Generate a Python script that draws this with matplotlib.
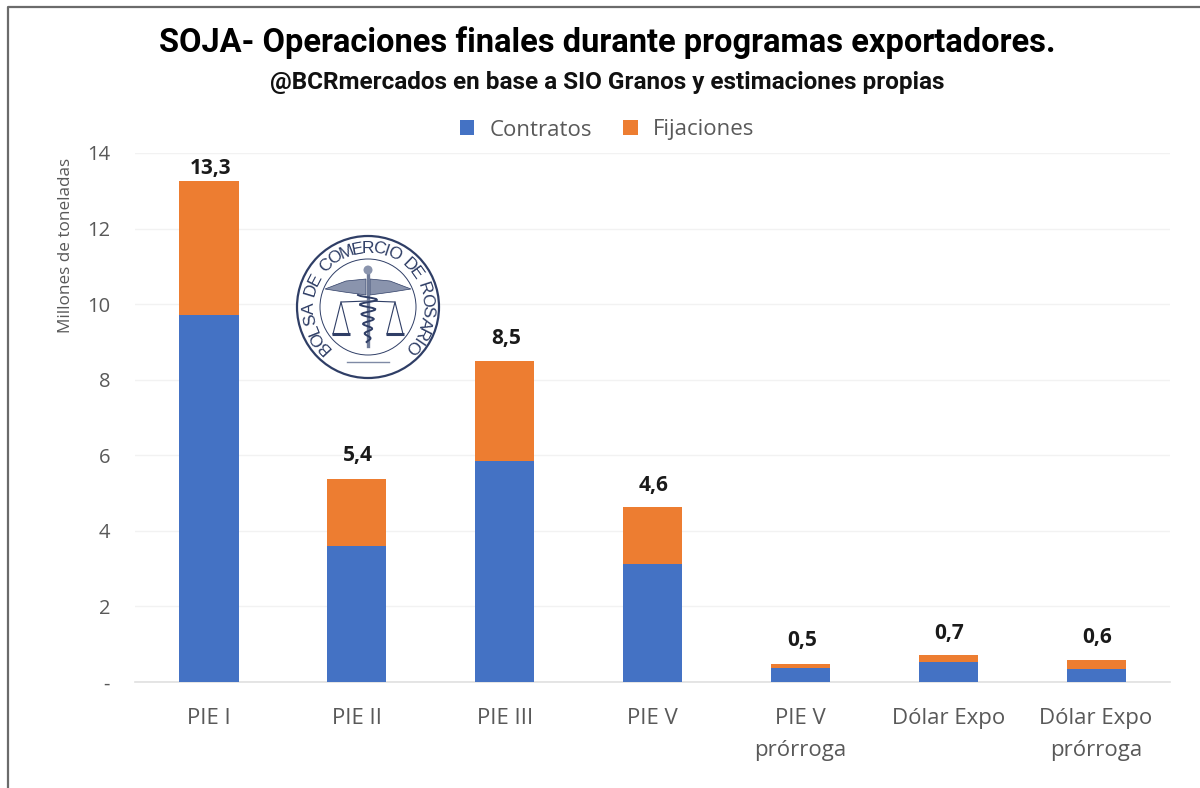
import numpy as np
import matplotlib
matplotlib.use('Agg')
import matplotlib.pyplot as plt
from matplotlib.patches import Circle, Polygon
from matplotlib.font_manager import FontProperties
from matplotlib.textpath import TextPath

# datos
categorias = ['PIE I', 'PIE II', 'PIE III', 'PIE V', 'PIE V\nprórroga', 'Dólar Expo', 'Dólar Expo\nprórroga']
contratos = [9.72, 3.60, 5.86, 3.13, 0.38, 0.52, 0.34]
fijaciones = [3.55, 1.78, 2.63, 1.50, 0.10, 0.19, 0.24]
totales = ['13,3', '5,4', '8,5', '4,6', '0,5', '0,7', '0,6']
alturas_etiqueta = [13.3, 5.4, 8.5, 4.6, 0.5, 0.7, 0.6]
ticks_y = [0, 2, 4, 6, 8, 10, 12, 14]
ticks_y_txt = ['-', '2', '4', '6', '8', '10', '12', '14']

W, H = 1200, 788
AZUL, NARANJA = '#4472C4', '#ED7D31'
GRIS = '#595959'
NAVY = '#2F3E66'
plt.rcParams['font.family'] = ['Open Sans', 'DejaVu Sans']

fig = plt.figure(figsize=(W / 100, H / 100), dpi=100)
ax = fig.add_axes([135 / W, 1 - 682 / H, (1170 - 135) / W, (682 - 153) / H])

x = np.arange(len(categorias))
ax.bar(x, contratos, width=0.4, color=AZUL, label='Contratos', zorder=3)
ax.bar(x, fijaciones, width=0.4, bottom=contratos, color=NARANJA, label='Fijaciones', zorder=3)

for i, t in enumerate(totales):
    ax.annotate(t, (x[i], alturas_etiqueta[i]), xytext=(1, 16 if i else 8), textcoords='offset points',
                ha='center', va='center', fontsize=15, fontweight='bold', color='#1a1a1a', zorder=5)

ax.set_xlim(-0.5, len(categorias) - 0.5)
ax.set_ylim(0, 14)
ax.set_xticks(x, categorias, fontsize=16, color=GRIS, linespacing=1.7)
ax.set_yticks(ticks_y, ticks_y_txt, fontsize=14.5, color=GRIS)
ax.tick_params(length=0)
ax.tick_params(axis='x', pad=18.5)
ax.tick_params(axis='y', pad=18)
ax.grid(axis='y', color='#F2F2F2', lw=1, zorder=0)
ax.set_axisbelow(True)
for s in ['top', 'right', 'left']:
    ax.spines[s].set_visible(False)
ax.spines['bottom'].set_color('#E0E0E0')
ax.spines['bottom'].set_linewidth(1.2)

fig.text(66 / W, 1 - 245 / H, 'Millones de toneladas', rotation=90, ha='center', va='center',
         fontsize=12.3, color=GRIS)

fig.text(607 / W, 1 - 43 / H, 'SOJA- Operaciones finales durante programas exportadores.',
         ha='center', va='center', fontsize=23.5, fontweight='bold', color='black',
         family=['Roboto', 'DejaVu Sans'])
fig.text(607 / W, 1 - 82 / H, '@BCRmercados en base a SIO Granos y estimaciones propias',
         ha='center', va='center', fontsize=17.5, fontweight='bold', color='#111111',
         family=['Roboto', 'DejaVu Sans'])

ax.legend(loc='center', bbox_to_anchor=(607 / W, 1 - 130 / H), bbox_transform=fig.transFigure,
          ncol=2, frameon=False, fontsize=16, labelcolor=GRIS, handlelength=0.65, handleheight=0.65,
          handletextpad=0.7, columnspacing=1.4, borderpad=0)

# marco de la captura y sello, en pixeles de la imagen
ov = fig.add_axes([0, 0, 1, 1], facecolor='none')
ov.set_xlim(0, W)
ov.set_ylim(H, 0)
ov.set_aspect('equal')
ov.axis('off')
ov.plot([8, 8, W], [H, 7, 7], color='#6b6b6b', lw=1.6, solid_capstyle='butt')

cx, cy = 368, 307
ov.add_patch(Circle((cx, cy), 71, fc='white', ec=NAVY, lw=1.6, zorder=4))
ov.add_patch(Circle((cx, cy), 48, fc='white', ec=NAVY, lw=0.7, zorder=4))

# texto del sello, repartido segun el ancho de cada letra
texto = 'BOLSA DE COMERCIO DE ROSARIO'
fp = FontProperties(family='Liberation Sans')
anchos = np.array([TextPath((0, 0), c, size=10, prop=fp).get_extents().width if c != ' ' else 3.0
                   for c in texto]) + 1.6
acum = np.concatenate([[0], np.cumsum(anchos)])
centros = (acum[:-1] + acum[1:]) / 2 / acum[-1]
for ch, f in zip(texto, centros):
    a = 228 - f * 276
    px = cx + 59 * np.cos(np.radians(a))
    py = cy - 59 * np.sin(np.radians(a))
    ov.text(px, py, ch, rotation=a - 90, ha='center', va='center', fontsize=12.5, color=NAVY,
            family=['Liberation Sans', 'DejaVu Sans'], rotation_mode='anchor', zorder=5)

for sg in (-1, 1):
    # alas
    ov.add_patch(Polygon([(cx + sg * 2, cy - 28), (cx + sg * 22, cy - 26), (cx + sg * 43, cy - 18),
                          (cx + sg * 24, cy - 15), (cx + sg * 2, cy - 12)],
                         fc='#8a94ad', ec=NAVY, lw=0.5, zorder=5))
    # balanzas
    bx = cx + sg * 27
    ov.plot([bx - 8, bx, bx + 8], [cy + 27, cy - 5, cy + 27], color=NAVY, lw=0.8, zorder=5)
    ov.plot([bx - 9, bx + 9], [cy + 27, cy + 27], color=NAVY, lw=2.2, solid_capstyle='butt', zorder=5)
    ov.plot([cx, bx], [cy - 6, cy - 5], color=NAVY, lw=0.8, zorder=5)
# baston y serpiente
ov.plot([cx, cx], [cy - 36, cy + 39], color='#6f7b98', lw=2.4, zorder=5)
ov.add_patch(Circle((cx, cy - 37), 4.5, fc='#8a94ad', ec='none', zorder=5))
ys = np.arange(cy - 12, cy + 36)
ov.plot(cx + (10 - (ys - cy + 12) * 0.17) * np.sin((ys - cy) * 0.65), ys, color=NAVY, lw=1.4, zorder=6)
ov.plot([cx - 21, cx + 21], [cy + 55, cy + 55], color='#7f8aa5', lw=1, zorder=5)

fig.savefig('out.png', dpi=100)
